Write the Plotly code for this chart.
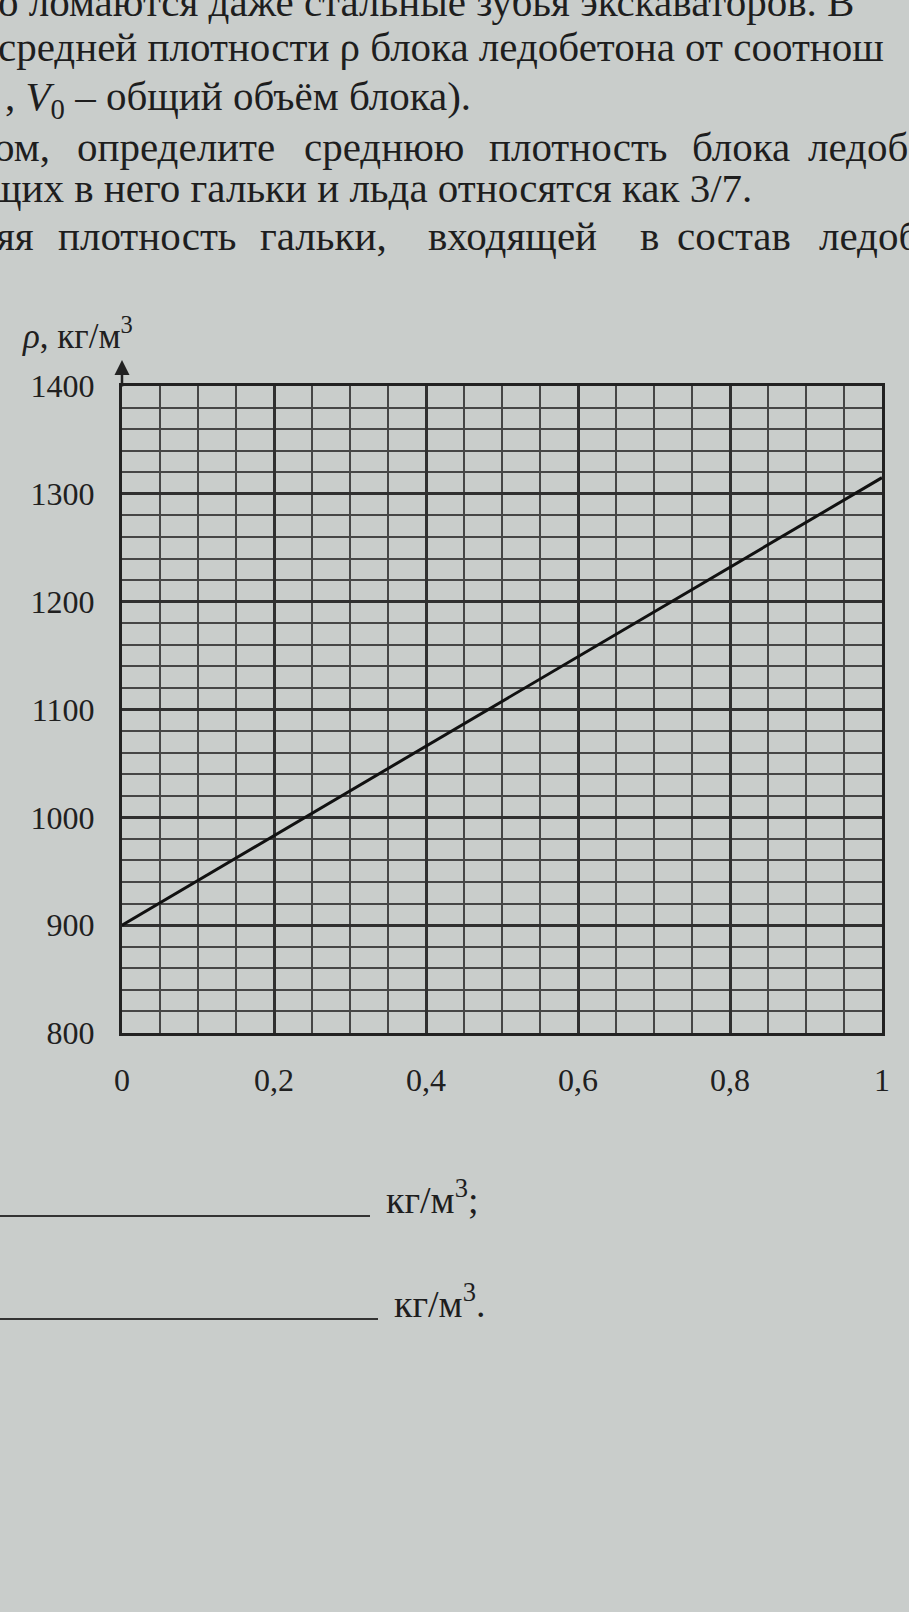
import plotly.graph_objects as go

# ---- data ----
share_values = [0, 1]                 # x: доля гальки
rho_values = [900, 1315]              # y: средняя плотность, кг/м3
x_tick_vals = [0, 0.2, 0.4, 0.6, 0.8, 1]
x_tick_text = ["0", "0,2", "0,4", "0,6", "0,8", "1"]
y_tick_vals = [800, 900, 1000, 1100, 1200, 1300, 1400]
y_tick_text = ["800", "900", "1000", "1100", "1200", "1300", "1400"]

W, H = 909, 1612
L, R, T, B = 122, 27, 386, 579
PW, PH = W - L - R, H - T - B

def px(x):
    return (x - L) / PW

def py(y):
    return (H - B - y) / PH

BG = "#c9cdcb"
INK = "#202020"
SERIF = "Liberation Serif"

fig = go.Figure()
fig.add_trace(go.Scatter(x=share_values, y=rho_values, mode="lines",
                         line=dict(color="#111111", width=3), showlegend=False,
                         hoverinfo="skip"))

fig.update_layout(
    width=W, height=H, margin=dict(l=L, r=R, t=T, b=B),
    paper_bgcolor=BG, plot_bgcolor=BG, showlegend=False,
    font=dict(family=SERIF, color=INK),
)
fig.update_xaxes(range=[0, 1], tickvals=x_tick_vals, ticktext=x_tick_text,
                 showgrid=True, gridcolor="#303030", gridwidth=2.5,
                 minor=dict(dtick=0.05, tick0=0, showgrid=True, gridcolor="#464646", gridwidth=1.6),
                 showline=True, linecolor="#222222", linewidth=3, mirror=True,
                 zeroline=False, ticks="", ticklabelstandoff=17,
                 tickfont=dict(family=SERIF, size=32, color=INK))
fig.update_yaxes(range=[800, 1400], tickvals=y_tick_vals, ticktext=y_tick_text,
                 showgrid=True, gridcolor="#303030", gridwidth=2.5,
                 minor=dict(dtick=20, tick0=800, showgrid=True, gridcolor="#464646", gridwidth=1.6),
                 showline=True, linecolor="#222222", linewidth=3, mirror=True,
                 zeroline=False, ticks="", ticklabelstandoff=18,
                 tickfont=dict(family=SERIF, size=32, color=INK))

# axis arrow
fig.add_annotation(x=0, xref="x", y=py(360), yref="paper", ax=0, ay=28,
                   text="", showarrow=True, arrowhead=2, arrowsize=1.2,
                   arrowwidth=2.5, arrowcolor="#222222")
# axis title
fig.add_annotation(x=px(20), y=py(333), xref="paper", yref="paper",
                   xanchor="left", yanchor="middle", showarrow=False,
                   text="<i>ρ</i>, кг/м<sup>3</sup>",
                   font=dict(family=SERIF, size=35, color=INK))

def put(x0, y0, t, size=41):
    fig.add_annotation(x=px(x0), y=py(y0), xref="paper", yref="paper",
                       xanchor="left", yanchor="middle", showarrow=False,
                       text=t, font=dict(family=SERIF, size=size, color="#1e1e1e"))

# page text above (single-run lines)
put(-4, 2, "о ломаются даже стальные зубья экскаваторов. В")
put(-4, 47, "средней плотности ρ блока ледобетона от соотнош")
put(3, 99, ", <i>V</i><sub>0</sub> – общий объём блока).")
put(-12, 188, "щих в него гальки и льда относятся как 3/7.")
# justified lines: word by word
for x0, w in zip([-8, 75, 302, 487, 690, 806],
                 ["ом,", "определите", "среднюю", "плотность", "блока", "ледоб"]):
    put(x0, 147, w)
for x0, w in zip([-6, 56, 258, 426, 638, 675, 817],
                 ["яя", "плотность", "гальки,", "входящей", "в", "состав", "ледоб"]):
    put(x0, 236, w)

# answer lines below
for x_end, y_line, y_txt, t in [(370, 1216, 1197, "кг/м<sup>3</sup>;"),
                                (378, 1319, 1301, "кг/м<sup>3</sup>.")]:
    fig.add_shape(type="line", xref="paper", yref="paper",
                  x0=px(0), x1=px(x_end), y0=py(y_line), y1=py(y_line),
                  line=dict(color="#333333", width=2.2))
    fig.add_annotation(x=px(x_end + 14), y=py(y_txt), xref="paper", yref="paper",
                       xanchor="left", yanchor="middle", showarrow=False,
                       text=t, font=dict(family=SERIF, size=38, color="#1e1e1e"))

fig.write_html("out.html", config={"displayModeBar": False},
               post_script="document.body.style.margin='0';")
